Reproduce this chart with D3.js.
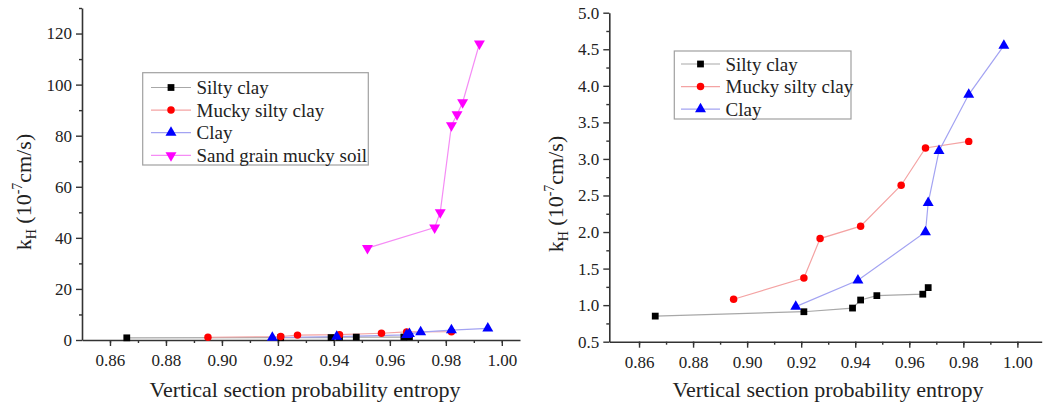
<!DOCTYPE html>
<html><head><meta charset="utf-8">
<script src="https://cdn.jsdelivr.net/npm/d3@7"></script>
<style>
body{margin:0;background:#fff;}
svg text{font-family:'Liberation Serif','Tinos','DejaVu Serif','Noto Serif','Times New Roman',Times,serif !important;fill:#222;}
</style></head>
<body><svg id="c" width="1050" height="408" font-family="Liberation Serif, DejaVu Serif, serif"></svg>
<script>
// ---- data ----
const siltyX = [0.866, 0.921, 0.939, 0.942, 0.948, 0.965, 0.967];
const siltyY = [0.85, 0.91, 0.96, 1.07, 1.13, 1.15, 1.24];
const muckyX = [0.895, 0.921, 0.927, 0.942, 0.957, 0.966, 0.982];
const muckyY = [1.08, 1.37, 1.91, 2.08, 2.64, 3.15, 3.24];
const clayX = [0.918, 0.941, 0.966, 0.967, 0.971, 0.982, 0.995];
const clayY = [0.98, 1.34, 2.00, 2.40, 3.11, 3.88, 4.55];
const sandX = [0.952, 0.976, 0.978, 0.982, 0.984, 0.986, 0.992];
const sandY = [36, 44, 50, 84, 88.3, 93, 116];
const seriesNames = ["Silty clay", "Mucky silty clay", "Clay", "Sand grain mucky soil"];
const xTicks = [0.86, 0.88, 0.90, 0.92, 0.94, 0.96, 0.98, 1.00];
const leftYTicks = [0, 20, 40, 60, 80, 100, 120];
const rightYTicks = [0.5, 1.0, 1.5, 2.0, 2.5, 3.0, 3.5, 4.0, 4.5, 5.0];
const xTitle = "Vertical section probability entropy";

const FONT = "'Liberation Serif','Tinos','DejaVu Serif','Times New Roman',serif";
const styles = [
  {marker: "square", fill: "#000", line: "#a8a8a8"},
  {marker: "circle", fill: "#f00", line: "#f4a3a3"},
  {marker: "tri", fill: "#00f", line: "#a3a3f2"},
  {marker: "itri", fill: "#f0f", line: "#f58cf5"}
];
const allSeries = [
  {name: seriesNames[0], x: siltyX, y: siltyY, s: styles[0]},
  {name: seriesNames[1], x: muckyX, y: muckyY, s: styles[1]},
  {name: seriesNames[2], x: clayX, y: clayY, s: styles[2]},
  {name: seriesNames[3], x: sandX, y: sandY, s: styles[3]}
];

const svg = d3.select("#c");

function symbolPath(m) {
  if (m === "square") return d3.symbol(d3.symbolSquare, 46)();
  if (m === "circle") return d3.symbol(d3.symbolCircle, 44)();
  return d3.symbol(d3.symbolTriangle, 52)();
}
function drawMarker(g, m, fill, x, y) {
  g.append("path").attr("d", symbolPath(m))
    .attr("transform", `translate(${x},${y})` + (m === "itri" ? " rotate(180)" : ""))
    .attr("fill", fill);
}

function panel(cfg) {
  const g = svg.append("g");
  const x = d3.scaleLinear().domain(cfg.xDomain).range(cfg.xRange);
  const y = d3.scaleLinear().domain(cfg.yDomain).range(cfg.yRange);
  const axisColor = "#333";
  const xMinor = d3.range(0.86, 1.0051, 0.01).filter(v => v >= cfg.xDomain[0] && v <= cfg.xDomain[1]);
  g.append("g").attr("transform", `translate(0,${cfg.yRange[0]})`)
    .call(d3.axisBottom(x).tickValues(xMinor).tickSize(3).tickFormat(""))
    .call(a => a.select(".domain").remove())
    .call(a => a.selectAll("line").attr("stroke", axisColor).attr("stroke-width", 1.4));
  g.append("g").attr("transform", `translate(${cfg.xRange[0]},0)`)
    .call(d3.axisLeft(y).tickValues(cfg.yMinor).tickSize(3).tickFormat(""))
    .call(a => a.select(".domain").remove())
    .call(a => a.selectAll("line").attr("stroke", axisColor).attr("stroke-width", 1.4));
  const xa = g.append("g").attr("transform", `translate(0,${cfg.yRange[0]})`)
    .call(d3.axisBottom(x).tickValues(xTicks).tickSize(6).tickSizeOuter(0).tickPadding(8).tickFormat(d3.format(".2f")));
  const ya = g.append("g").attr("transform", `translate(${cfg.xRange[0]},0)`)
    .call(d3.axisLeft(y).tickValues(cfg.yTicks).tickSize(6).tickSizeOuter(0).tickPadding(4).tickFormat(cfg.yFmt));
  [xa, ya].forEach(a => {
    a.attr("font-family", FONT);
    a.select(".domain").attr("stroke", axisColor).attr("stroke-width", 1.6);
    a.selectAll(".tick line").attr("stroke", axisColor).attr("stroke-width", 1.4);
    a.selectAll("text").attr("font-size", 17).attr("fill", "#222").attr("font-family", FONT);
  });
  cfg.series.forEach(sr => {
    const pts = sr.x.map((v, i) => [x(v), y(sr.y[i])]);
    g.append("path").attr("d", d3.line()(pts)).attr("fill", "none")
      .attr("stroke", sr.s.line).attr("stroke-width", 1.2);
  });
  cfg.series.forEach(sr => {
    sr.x.forEach((v, i) => drawMarker(g, sr.s.marker, sr.s.fill, x(v), y(sr.y[i])));
  });
  const L = cfg.legend;
  g.append("rect").attr("x", L.x).attr("y", L.y).attr("width", L.w).attr("height", L.h)
    .attr("fill", "#fff").attr("stroke", "#a0a0a0").attr("stroke-width", 1.2);
  cfg.series.forEach((sr, i) => {
    const cy = L.row0 + i * L.dy;
    g.append("line").attr("x1", L.lx0).attr("x2", L.lx1).attr("y1", cy).attr("y2", cy)
      .attr("stroke", sr.s.line).attr("stroke-width", 1.2);
    drawMarker(g, sr.s.marker, sr.s.fill, (L.lx0 + L.lx1) / 2, cy);
    g.append("text").attr("x", L.tx).attr("y", cy).attr("dy", "0.35em")
      .attr("font-family", FONT).attr("font-size", 19).text(sr.name);
  });
  g.append("text").attr("x", cfg.xTitlePos[0]).attr("y", cfg.xTitlePos[1])
    .attr("font-family", FONT).attr("text-anchor", "middle").attr("font-size", 22).text(xTitle);
  const yt = g.append("text").attr("transform", `translate(${cfg.yTitlePos[0]},${cfg.yTitlePos[1]}) rotate(-90)`)
    .attr("font-family", FONT).attr("text-anchor", "middle").attr("font-size", 22);
  yt.append("tspan").text("k");
  yt.append("tspan").attr("font-size", 14).attr("dy", 5).text("H");
  yt.append("tspan").attr("dy", -5).text(" (10");
  yt.append("tspan").attr("font-size", 14).attr("dy", -9).text("-7");
  yt.append("tspan").attr("dy", 9).text("cm/s)");
}

panel({
  xDomain: [0.85, 1.0065], xRange: [82, 520],
  yDomain: [0, 130], yRange: [340, 8],
  yTicks: leftYTicks, yMinor: d3.range(10, 131, 20), yFmt: d3.format("d"),
  series: allSeries,
  legend: {x: 142.7, y: 72.7, w: 225.6, h: 92.3, row0: 87.5, dy: 22.6, lx0: 151, lx1: 191, tx: 196.5},
  xTitlePos: [305, 397], yTitlePos: [31, 192]
});
panel({
  xDomain: [0.849, 1.009], xRange: [609.3, 1041.7],
  yDomain: [0.5, 5.0], yRange: [341.7, 12.7],
  yTicks: rightYTicks, yMinor: d3.range(0.75, 5.0, 0.5), yFmt: d3.format(".1f"),
  series: allSeries.slice(0, 3),
  legend: {x: 674.3, y: 51, w: 176.7, h: 68, row0: 64, dy: 22.6, lx0: 681, lx1: 720, tx: 725.5},
  xTitlePos: [828, 397], yTitlePos: [563, 194]
});
</script></body></html>
